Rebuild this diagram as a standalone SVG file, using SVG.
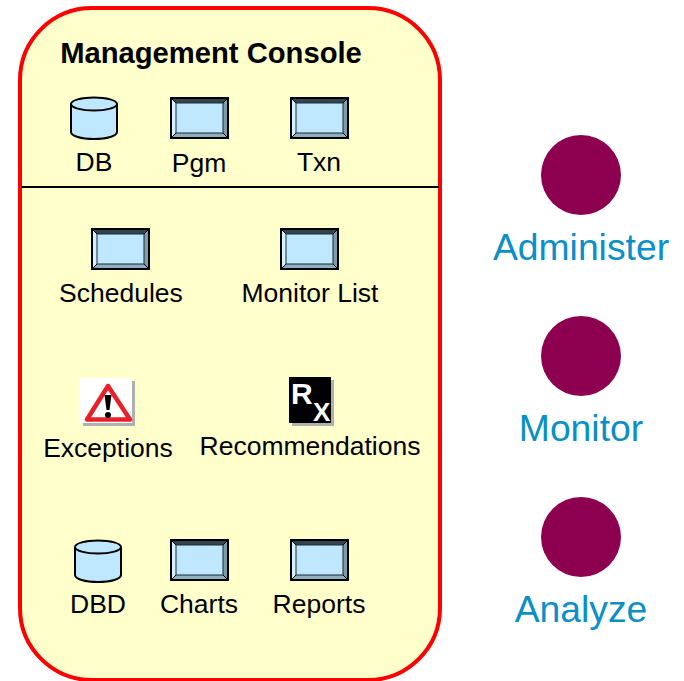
<svg xmlns="http://www.w3.org/2000/svg" width="684" height="681" viewBox="0 0 684 681">
<style>
text{font-family:"Liberation Sans",Arial,sans-serif;fill:#000;font-size:26.5px;text-anchor:middle}
.title{font-weight:bold;font-size:29.2px}
.side{fill:#0A8FC6;font-size:37.3px}
.dot{fill:#8C004F}
.cyl{fill:#BFE8FF;stroke:#000;stroke-width:2}
.rx{fill:#fff;font-weight:bold;text-anchor:start}
</style>
<defs>
<g id="win">
<rect x="0" y="0" width="59" height="42" fill="#000"/>
<polygon points="2,2 57,2 53,6 6,6" fill="#33444D"/>
<polygon points="2,2 6,6 6,36 2,40" fill="#D5F0FF"/>
<polygon points="57,2 53,6 53,36 57,40" fill="#7F9CAB"/>
<polygon points="2,40 6,36 53,36 57,40" fill="#8FAFBF"/>
<rect x="6" y="6" width="47" height="30" fill="#BFE8FF" stroke="#1A2A32" stroke-width="1"/>
<path d="M2 2L6 6M57 2L53 6M2 40L6 36M57 40L53 36" stroke="#000" stroke-width="1"/>
</g>
<g id="cyl">
<path class="cyl" d="M0 7V35C0 39 10 42 23 42S46 39 46 35V7"/>
<ellipse class="cyl" cx="23" cy="7" rx="23" ry="6.5"/>
</g>
</defs>
<g id="panel">
<rect x="20" y="8" width="420" height="672" rx="72" ry="72" fill="#FFFFCC" stroke="#F00" stroke-width="4"/>
<text class="title" x="211" y="63">Management Console</text>
</g>
<g id="connectors">
<line x1="21" y1="187" x2="439" y2="187" stroke="#000" stroke-width="2"/>
</g>
<g id="node-db"><use href="#cyl" x="71" y="97"/><text x="94" y="171">DB</text></g>
<g id="node-pgm"><use href="#win" x="170" y="97"/><text x="199" y="172">Pgm</text></g>
<g id="node-txn"><use href="#win" x="290" y="97"/><text x="319" y="171">Txn</text></g>
<g id="node-schedules"><use href="#win" x="91" y="228"/><text x="121" y="302">Schedules</text></g>
<g id="node-monitor-list"><use href="#win" x="280" y="228"/><text x="310" y="302">Monitor List</text></g>
<g id="node-exceptions">
<rect x="83" y="381" width="52" height="45" fill="#B0B0B0"/>
<rect x="80" y="378" width="52" height="45" fill="#fff"/>
<polygon points="108,386 130,419.500 87,419.500" fill="#fff" stroke="#E8202A" stroke-width="4.500" stroke-linejoin="round"/>
<path d="M104.500 395L111.500 395L109.500 410L106.500 410Z" fill="#000"/>
<circle cx="108" cy="415" r="3" fill="#000"/>
<text x="108" y="457">Exceptions</text>
</g>
<g id="node-recommendations">
<rect x="292" y="380" width="42" height="46" fill="#B0B0B0"/>
<rect x="289" y="377" width="42" height="46" fill="#000"/>
<text class="rx" x="291" y="404" style="font-size:30px">R</text>
<text class="rx" x="313" y="421" style="font-size:26px">X</text>
<text x="310" y="455">Recommendations</text>
</g>
<g id="node-dbd"><use href="#cyl" x="75" y="540"/><text x="98" y="613">DBD</text></g>
<g id="node-charts"><use href="#win" x="170" y="539"/><text x="199" y="613">Charts</text></g>
<g id="node-reports"><use href="#win" x="290" y="539"/><text x="319" y="613">Reports</text></g>
<g id="node-administer"><circle class="dot" cx="581" cy="175" r="40"/><text class="side" x="581" y="260">Administer</text></g>
<g id="node-monitor"><circle class="dot" cx="581" cy="356" r="40"/><text class="side" x="581" y="441">Monitor</text></g>
<g id="node-analyze"><circle class="dot" cx="581" cy="537" r="40"/><text class="side" x="581" y="622">Analyze</text></g>
</svg>
